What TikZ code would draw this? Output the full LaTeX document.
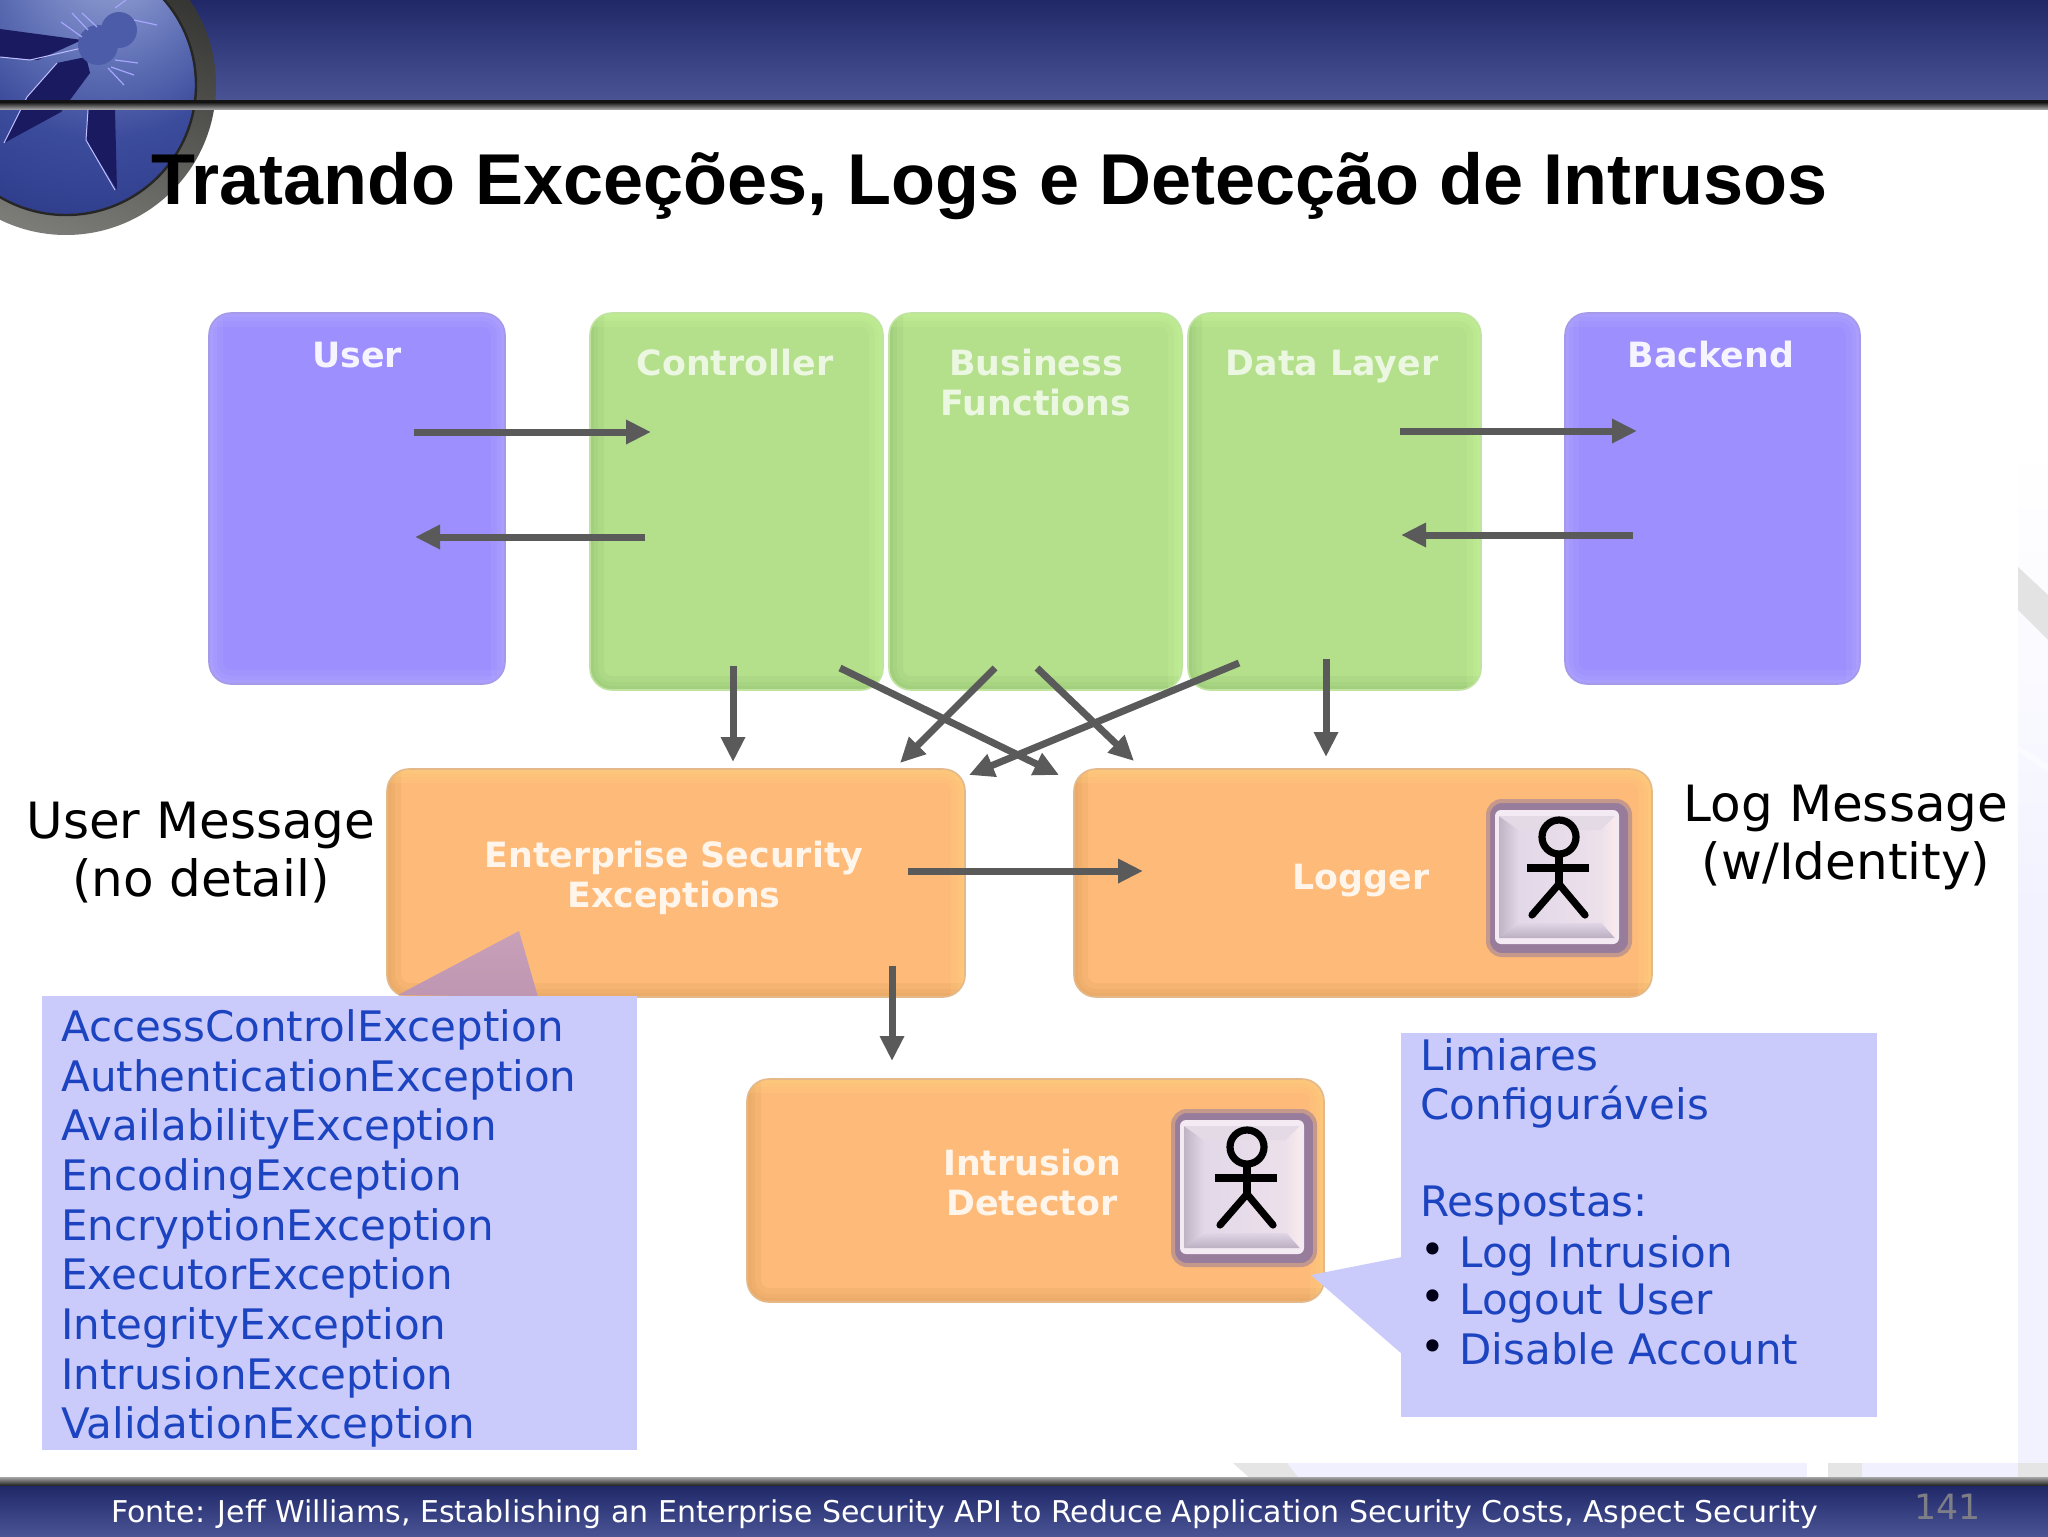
\documentclass[tikz,border=0pt]{standalone}
\usepackage{fontspec}
\setmainfont{DejaVu Sans}
\newfontfamily\titlefont{Liberation Sans}
\usetikzlibrary{arrows.meta,shadings}
\definecolor{hdtop}{HTML}{202868}
\definecolor{hdbot}{HTML}{4A5494}
\definecolor{arrowgray}{HTML}{5A5A5A}
\definecolor{notefill}{HTML}{CBCBFB}
\definecolor{notetext}{HTML}{1C44C0}
\definecolor{purplebase}{HTML}{9D8FFD}
\definecolor{purpleedge}{HTML}{A49AE8}
\definecolor{purplelight}{HTML}{BCB2FF}
\definecolor{greenbase}{HTML}{B4E08C}
\definecolor{greenedge}{HTML}{C0E4A0}
\definecolor{greendark}{HTML}{8CBC6C}
\definecolor{greenlight}{HTML}{CCFC9C}
\definecolor{orangebase}{HTML}{FDBA78}
\definecolor{orangeedge}{HTML}{E4B888}
\definecolor{orangedark}{HTML}{D89858}
\definecolor{orangelight}{HTML}{FFDC80}
\definecolor{btnpurple}{HTML}{987C9C}
\definecolor{logoa}{HTML}{A4B0D8}
\definecolor{logob}{HTML}{7080C0}
\definecolor{logoc}{HTML}{3C4C9C}
\definecolor{logod}{HTML}{1E2A78}
\definecolor{logoe}{HTML}{182064}
\definecolor{wingdark}{HTML}{1A1A60}
\definecolor{waspbody}{HTML}{4C5CA8}
\definecolor{ringdark}{HTML}{2E2E2C}
\definecolor{ringlight}{HTML}{7C7C78}
\definecolor{btnlip}{HTML}{F4EAF4}
\definecolor{btnfacea}{HTML}{E2D8E8}
\definecolor{btnfaceb}{HTML}{ECE0EA}
\definecolor{btnlefta}{HTML}{BEB4C4}
\definecolor{btnbottom}{HTML}{BAAEC0}
\definecolor{btntop}{HTML}{E4DAE6}
\definecolor{btnright}{HTML}{FAEAEC}
\definecolor{notchtop}{HTML}{C8A0B8}
\definecolor{notchbot}{HTML}{BE96B2}
\pgfdeclareradialshading{logoblue}{\pgfpoint{10bp}{28bp}}{color(0bp)=(logoa); color(14bp)=(logob); color(30bp)=(logoc); color(60bp)=(logod); color(100bp)=(logoe)}
\pgfdeclareradialshading{logoring}{\pgfpoint{0bp}{0bp}}{color(0bp)=(ringdark); color(42bp)=(ringdark); color(46bp)=(ringlight); color(50bp)=(ringdark!70!ringlight); color(100bp)=(ringdark)}
\tikzset{
  softbox/.style n args={3}{rectangle,rounded corners=11pt,inner sep=0pt,fill=#1,
    path picture={
      \foreach \w in {4,8,14}{
        \draw[#2,opacity=.17,line width=\w pt] (path picture bounding box.north west) -- (path picture bounding box.south west) -- (path picture bounding box.south east);
        \draw[#3,opacity=.17,line width=\w pt] (path picture bounding box.south east) -- (path picture bounding box.north east) -- (path picture bounding box.north west);
      }
    }},
  purplestyle/.style={softbox={purplebase}{purplelight}{purplelight},draw=purpleedge,line width=.8pt},
  greenstyle/.style={softbox={greenbase}{greendark}{greenlight},draw=greenedge,line width=.8pt},
  orangestyle/.style={softbox={orangebase}{orangedark}{orangelight},draw=orangeedge,line width=.8pt},
  boxlabel/.style={font=\fontsize{17.4}{20}\selectfont\bfseries,text=#1,align=center,inner sep=0pt},
  flow/.style={draw=arrowgray,line width=3.5pt,-{Triangle[length=12.5pt,width=11.5pt]}},
  notebox/.style={fill=notefill,draw=none},
  notetxt/.style={font=\fontsize{21}{24.8}\selectfont,text=notetext,anchor=base west,inner sep=0pt},
  sidetxt/.style={font=\fontsize{25}{29}\selectfont,text=black,align=center,inner sep=0pt},
  btnouter/.style={rectangle,rounded corners=7pt,inner sep=0pt,minimum width=71pt,minimum height=77pt,fill=btnpurple,draw=btnpurple!55!orangebase,line width=2pt},
  stick/.style={draw=black,line width=3.6pt},
}
\newcommand{\actorbutton}[4]{%
  \node[btnouter] (#1) at (#2,#3) {};
  \begin{scope}[shift={(#2,#3)}]
    \fill[rounded corners=3pt,fill=btnlip] (-64,-68) rectangle (60,66);
    \shade[left color=btnlefta,right color=btnfacea] (-60,-62) -- (-40,-48) -- (-40,44) -- (-60,60) -- cycle;
    \shade[top color=btnfacea,bottom color=btnbottom] (-60,60) -- (-40,44) -- (42,44) -- (56,60) -- cycle;
    \shade[left color=btnfacea,right color=btnfaceb] (-40,-48) rectangle (42,44);
    \fill[btntop] (-60,-62) -- (-40,-48) -- (42,-48) -- (56,-62) -- cycle;
    \shade[left color=btnfaceb,right color=btnright] (42,-48) -- (56,-62) -- (56,60) -- (42,44) -- cycle;
    \begin{scope}[shift={(#4,0)}]
      \draw[stick] (0,-41) circle (17);
      \draw[stick] (0,-24) -- (0,6);
      \draw[stick] (-32,-10) -- (30,-10);
      \draw[stick,line cap=round] (-27,37) -- (0,6) -- (26,37);
    \end{scope}
  \end{scope}
}
\begin{document}
\begin{tikzpicture}[x=0.5pt,y=-0.5pt]
\path[use as bounding box] (0,0) rectangle (2048,1536);
\fill[white] (0,0) rectangle (2048,1536);
% pale slide background
\shade[top color=white,bottom color=black!3!blue!5!white,middle color=black!1!blue!2!white] (2018,440) rectangle (2048,900);
\fill[black!3!blue!5!white] (2018,899) rectangle (2048,1480);
\fill[black!11] (2018,567) -- (2048,595) -- (2048,640) -- (2018,610) -- cycle;
\fill[white!70!blue!5!white] (2018,745) -- (2048,765) -- (2048,772) -- (2018,752) -- cycle;
\fill[black!4!blue!6!white] (1287,1463) rectangle (1807,1480);
\fill[black!10] (1233,1463) -- (1287,1463) -- (1300,1480) -- (1252,1480) -- cycle;
\fill[black!10] (1828,1463) rectangle (1862,1480);
\fill[black!4!blue!6!white] (1862,1463) rectangle (2018,1480);
\fill[black!10] (2018,1463) rectangle (2048,1480);
% header and logo
\shade[top color=hdtop,bottom color=hdbot] (0,0) rectangle (2048,100);
\shade[left color=ringdark,right color=ringlight,shading angle=340] (66,85) circle (150);
\shade[shading=logoblue] (66,85) circle (129);
\draw[black!85,line width=1.2pt] (66,85) circle (130);
% wasp
\fill[wingdark] (0,29) -- (82,40) -- (38,60) -- (0,57) -- cycle;
\fill[wingdark] (86,57) -- (57,63) -- (27,97) -- (4,143) -- (61,112) -- (90,73) -- cycle;
\fill[wingdark] (88,110) -- (115,110) -- (117,190) -- (86,140) -- cycle;
\draw[white!75!blue,line width=.5pt] (0,57) -- (30,60) -- (82,48);
\draw[white!75!blue,line width=.5pt] (57,63) -- (27,97) -- (4,143);
\draw[white!75!blue,line width=.5pt] (88,110) -- (86,140) -- (115,190);
\fill[waspbody] (98,45) circle (20);
\fill[waspbody] (119,30) circle (18);
\draw[white!65!blue,line width=.6pt] (82,37) -- (61,22) (88,30) -- (72,13) (97,27) -- (82,13);
\draw[white!65!blue,line width=.6pt] (115,60) -- (138,63) (111,67) -- (134,75) (108,68) -- (124,85) (134,20) -- (157,25) (115,8) -- (126,0);
% separators
\fill[black!92] (0,100) rectangle (2048,103);
\shade[top color=black!85,bottom color=black!30] (0,103) rectangle (2048,110);
% title
\node[font=\titlefont\fontsize{36}{40}\selectfont\bfseries,anchor=base west,inner sep=0pt] (title) at (151,204) {Tratando Exceções, Logs e Detecção de Intrusos};
% top row
\node[purplestyle,minimum width=148pt,minimum height=185.5pt] (user) at (357,498.5) {};
\node[greenstyle,minimum width=146.5pt,minimum height=188.5pt] (controller) at (736.5,501.5) {};
\node[greenstyle,minimum width=146.5pt,minimum height=188.5pt] (business) at (1035.5,501.5) {};
\node[greenstyle,minimum width=146.5pt,minimum height=188.5pt] (datalayer) at (1334.5,501.5) {};
\node[purplestyle,minimum width=147.5pt,minimum height=185.5pt] (backend) at (1712.5,498.5) {};
\node[boxlabel=white!90!purplebase] (userlbl) at (357,355) {User};
\node[boxlabel=white!75!greenbase] (ctrllbl) at (735,363) {Controller};
\node[boxlabel=white!75!greenbase] (buslbl) at (1036,383) {Business\\Functions};
\node[boxlabel=white!75!greenbase] (datalbl) at (1332,367) {Data Layer};
\node[boxlabel=white!90!purplebase] (backlbl) at (1711,355) {Backend};
% middle and lower row
\node[orangestyle,minimum width=289pt,minimum height=114pt] (ese) at (676,883) {};
\node[orangestyle,minimum width=289pt,minimum height=114pt] (logger) at (1363,883) {};
\node[orangestyle,minimum width=288.5pt,minimum height=111.5pt] (intrusion) at (1035.5,1190.5) {};
\node[boxlabel=white!85!orangebase] (eselbl) at (674,878) {Enterprise Security\\Exceptions};
\node[boxlabel=white!85!orangebase] (loglbl) at (1361,881) {Logger};
\node[boxlabel=white!85!orangebase] (intlbl) at (1032,1183) {Intrusion\\Detector};
\actorbutton{loggerbtn}{1559}{878}{0}
\actorbutton{intrusionbtn}{1244}{1188}{3}
% side captions
\node[sidetxt] (usermsg) at (201,853) {User Message\\(no detail)};
\node[sidetxt] (logmsg) at (1846,837) {Log Message\\(w/Identity)};
% flows
\coordinate (a1s) at (414,432); \coordinate (a1e) at (651,432);
\coordinate (a2s) at (645,537); \coordinate (a2e) at (415,537);
\coordinate (a3s) at (1400,431); \coordinate (a3e) at (1637,431);
\coordinate (a4s) at (1633,535); \coordinate (a4e) at (1401,535);
\coordinate (d1s) at (733,666); \coordinate (d1e) at (733,762);
\coordinate (d2s) at (840,668); \coordinate (d2e) at (1059,775);
\coordinate (d3s) at (995,668); \coordinate (d3e) at (900,763);
\coordinate (d4s) at (1037,668); \coordinate (d4e) at (1134,761);
\coordinate (d5s) at (1239,663); \coordinate (d5e) at (969,775);
\coordinate (d6s) at (1326,659); \coordinate (d6e) at (1326,757);
\coordinate (hs) at (908,871); \coordinate (he) at (1143,871);
\coordinate (vs) at (892,966); \coordinate (ve) at (892,1061);
\foreach \s/\e in {a1s/a1e,a2s/a2e,a3s/a3e,a4s/a4e,d1s/d1e,d2s/d2e,d3s/d3e,d4s/d4e,d5s/d5e,d6s/d6e,hs/he,vs/ve}
  \draw[flow] (\s) -- (\e);
% notes
\shade[top color=notchtop,bottom color=notchbot] (398,995) -- (519,931) -- (538,997) -- cycle;
\node[notebox,inner sep=0pt,minimum width=297.5pt,minimum height=227pt] (listnote) at (339.5,1223) {};
\node[notebox,inner sep=0pt,minimum width=238pt,minimum height=192pt] (respnote) at (1639,1225) {};
\fill[notefill] (1402,1257) -- (1311,1275) -- (1402,1354) -- cycle;
\foreach \n/\t/\y in {l1/AccessControlException/1041,l2/AuthenticationException/1091,l3/AvailabilityException/1140,l4/EncodingException/1190,l5/EncryptionException/1240,l6/ExecutorException/1289,l7/IntegrityException/1339,l8/IntrusionException/1389,l9/ValidationException/1438}
  \node[notetxt] (\n) at (61,\y) {\t};
\node[notetxt] (r1) at (1420,1070) {Limiares};
\node[notetxt] (r2) at (1420,1119) {Configuráveis};
\node[notetxt] (r3) at (1420,1216) {Respostas:};
\foreach \n/\t/\y [evaluate=\y as \yb using \y-3] in {r4/Log Intrusion/1267,r5/Logout User/1314,r6/Disable Account/1364}{
  \node[notetxt] (\n) at (1459,\y) {\t};
  \node[notetxt,text=black!90!blue] (\n b) at (1420,\yb) {•};
}
% footer
\shade[top color=black!35,bottom color=black!90] (0,1477) rectangle (2048,1486);
\shade[top color=hdtop,bottom color=hdbot] (0,1486) rectangle (2048,1536);
\node[font=\fontsize{15}{18}\selectfont,text=white,anchor=base west,inner sep=0pt] (source) at (111,1522) {Fonte: Jeff Williams, Establishing an Enterprise Security API to Reduce Application Security Costs, Aspect Security};
\node[font=\fontsize{17.4}{20}\selectfont,text=black!35!blue!10!white!55!black,anchor=base east,inner sep=0pt] (pagenum) at (1981,1519) {141};
\end{tikzpicture}
\end{document}
